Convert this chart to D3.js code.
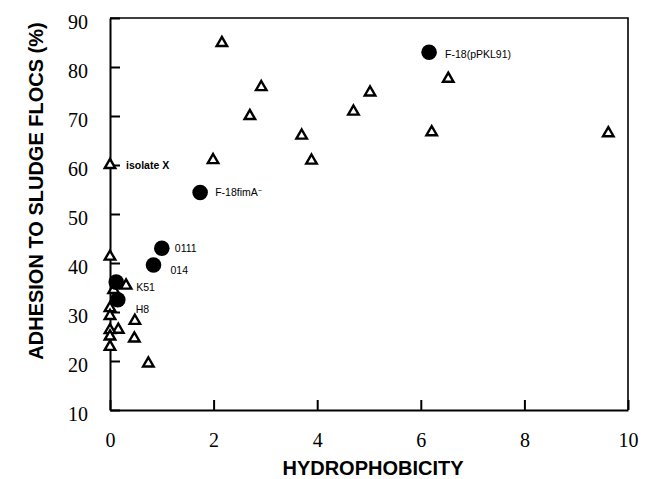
<!DOCTYPE html>
<html>
<head>
<meta charset="utf-8">
<script src="https://cdn.jsdelivr.net/npm/d3@7"></script>
<style>
  body { margin: 0; background: #fff; }
  svg { display: block; }
</style>
</head>
<body>
<svg width="647" height="479"></svg>
<script>
const width = 647;
const height = 479;

// open triangles (strains)
const triX = [0.0, 2.16, 2.92, 2.70, 1.99, 3.70, 3.89, 4.70, 5.02, 6.21, 6.53, 9.62,
  0.0, 0.31, 0.07, 0.0, 0.0, 0.16, 0.48, 0.0, 0.0, 0.47, 0.0, 0.74];
const triY = [60.0, 84.9, 75.9, 70.0, 61.0, 66.0, 60.9, 70.9, 74.8, 66.7, 77.6, 66.5,
  41.3, 35.4, 34.5, 30.8, 29.2, 26.4, 28.2, 26.3, 25.0, 24.6, 22.9, 19.5];

// filled circles (named strains)
const dotX = [6.16, 1.74, 1.0, 0.84, 0.12, 0.15];
const dotY = [83.0, 54.4, 43.0, 39.6, 36.1, 32.5];
const dotLabel = ["F-18(pPKL91)", "F-18fimA", "0111", "014", "K51", "H8"];

const xTicks = [0, 2, 4, 6, 8, 10];
const yTicks = [10, 20, 30, 40, 50, 60, 70, 80, 90];

const x = d3.scaleLinear().domain([0, 10]).range([110, 628]);
const y = d3.scaleLinear().domain([10, 90]).range([410, 18]);

const svg = d3.select("svg");

// frame top/right
svg.append("path")
  .attr("d", `M${x(0)},${y(90)}H${x(10)}V${y(10)}`)
  .attr("fill", "none").attr("stroke", "#000").attr("stroke-width", 1.6);

const xAxis = d3.axisBottom(x).tickValues(xTicks).tickSizeInner(-10).tickSizeOuter(0).tickPadding(23);
const yAxis = d3.axisLeft(y).tickValues(yTicks).tickSizeInner(-10).tickSizeOuter(0).tickPadding(22);

const gx = svg.append("g").attr("transform", `translate(0,${y(10)})`).call(xAxis);
const gy = svg.append("g").attr("transform", `translate(${x(0)},0)`).call(yAxis);

[gx, gy].forEach(g => {
  g.selectAll("path, line").attr("stroke", "#000").attr("stroke-width", 2);
  g.selectAll("text")
    .attr("font-family", "'Liberation Serif', 'Times New Roman', serif")
    .attr("font-size", 20)
    .attr("fill", "#000");
});
gy.selectAll("text").attr("dy", "0.52em");

// axis titles
svg.append("text")
  .attr("x", 373).attr("y", 475)
  .attr("text-anchor", "middle")
  .attr("font-family", "'Liberation Sans', Arial, sans-serif")
  .attr("font-weight", "bold").attr("font-size", 20)
  .text("HYDROPHOBICITY");

svg.append("text")
  .attr("transform", "translate(36,191) rotate(-90)")
  .attr("text-anchor", "middle")
  .attr("dy", "0.35em")
  .attr("font-family", "'Liberation Sans', Arial, sans-serif")
  .attr("font-weight", "bold").attr("font-size", 20)
  .text("ADHESION TO SLUDGE FLOCS (%)");

// triangles
const tri = d3.symbol().type(d3.symbolTriangle).size(48);
svg.append("g").selectAll("path")
  .data(triX.map((v, i) => [v, triY[i]]))
  .join("path")
  .attr("d", tri)
  .attr("transform", d => `translate(${x(d[0])},${y(d[1])})`)
  .attr("fill", "#fff").attr("stroke", "#000").attr("stroke-width", 2.4);

// circles
svg.append("g").selectAll("circle")
  .data(dotX.map((v, i) => [v, dotY[i]]))
  .join("circle")
  .attr("cx", d => x(d[0])).attr("cy", d => y(d[1]))
  .attr("r", 7.8).attr("fill", "#000");

// label offsets (px) from each point
const labelOffset = [[16, 2], [15, 0], [13, 0], [17, 5], [20, 5], [18, 10]];
const lab = svg.append("g")
  .attr("font-family", "'Liberation Sans', Arial, sans-serif")
  .attr("font-size", 10.5).attr("fill", "#000");
dotLabel.forEach((t, i) => {
  const txt = lab.append("text")
    .attr("x", x(dotX[i]) + labelOffset[i][0])
    .attr("y", y(dotY[i]) + labelOffset[i][1])
    .attr("dy", "0.35em")
    .text(t);
  if (t === "F-18fimA") {
    txt.append("tspan").attr("dy", "-0.45em").attr("font-size", 7).text("−");
  }
});

// isolate X label on the first triangle
lab.append("text")
  .attr("x", x(triX[0]) + 16).attr("y", y(triY[0]))
  .attr("dy", "0.35em").attr("font-weight", "bold")
  .text("isolate X");
</script>
</body>
</html>
